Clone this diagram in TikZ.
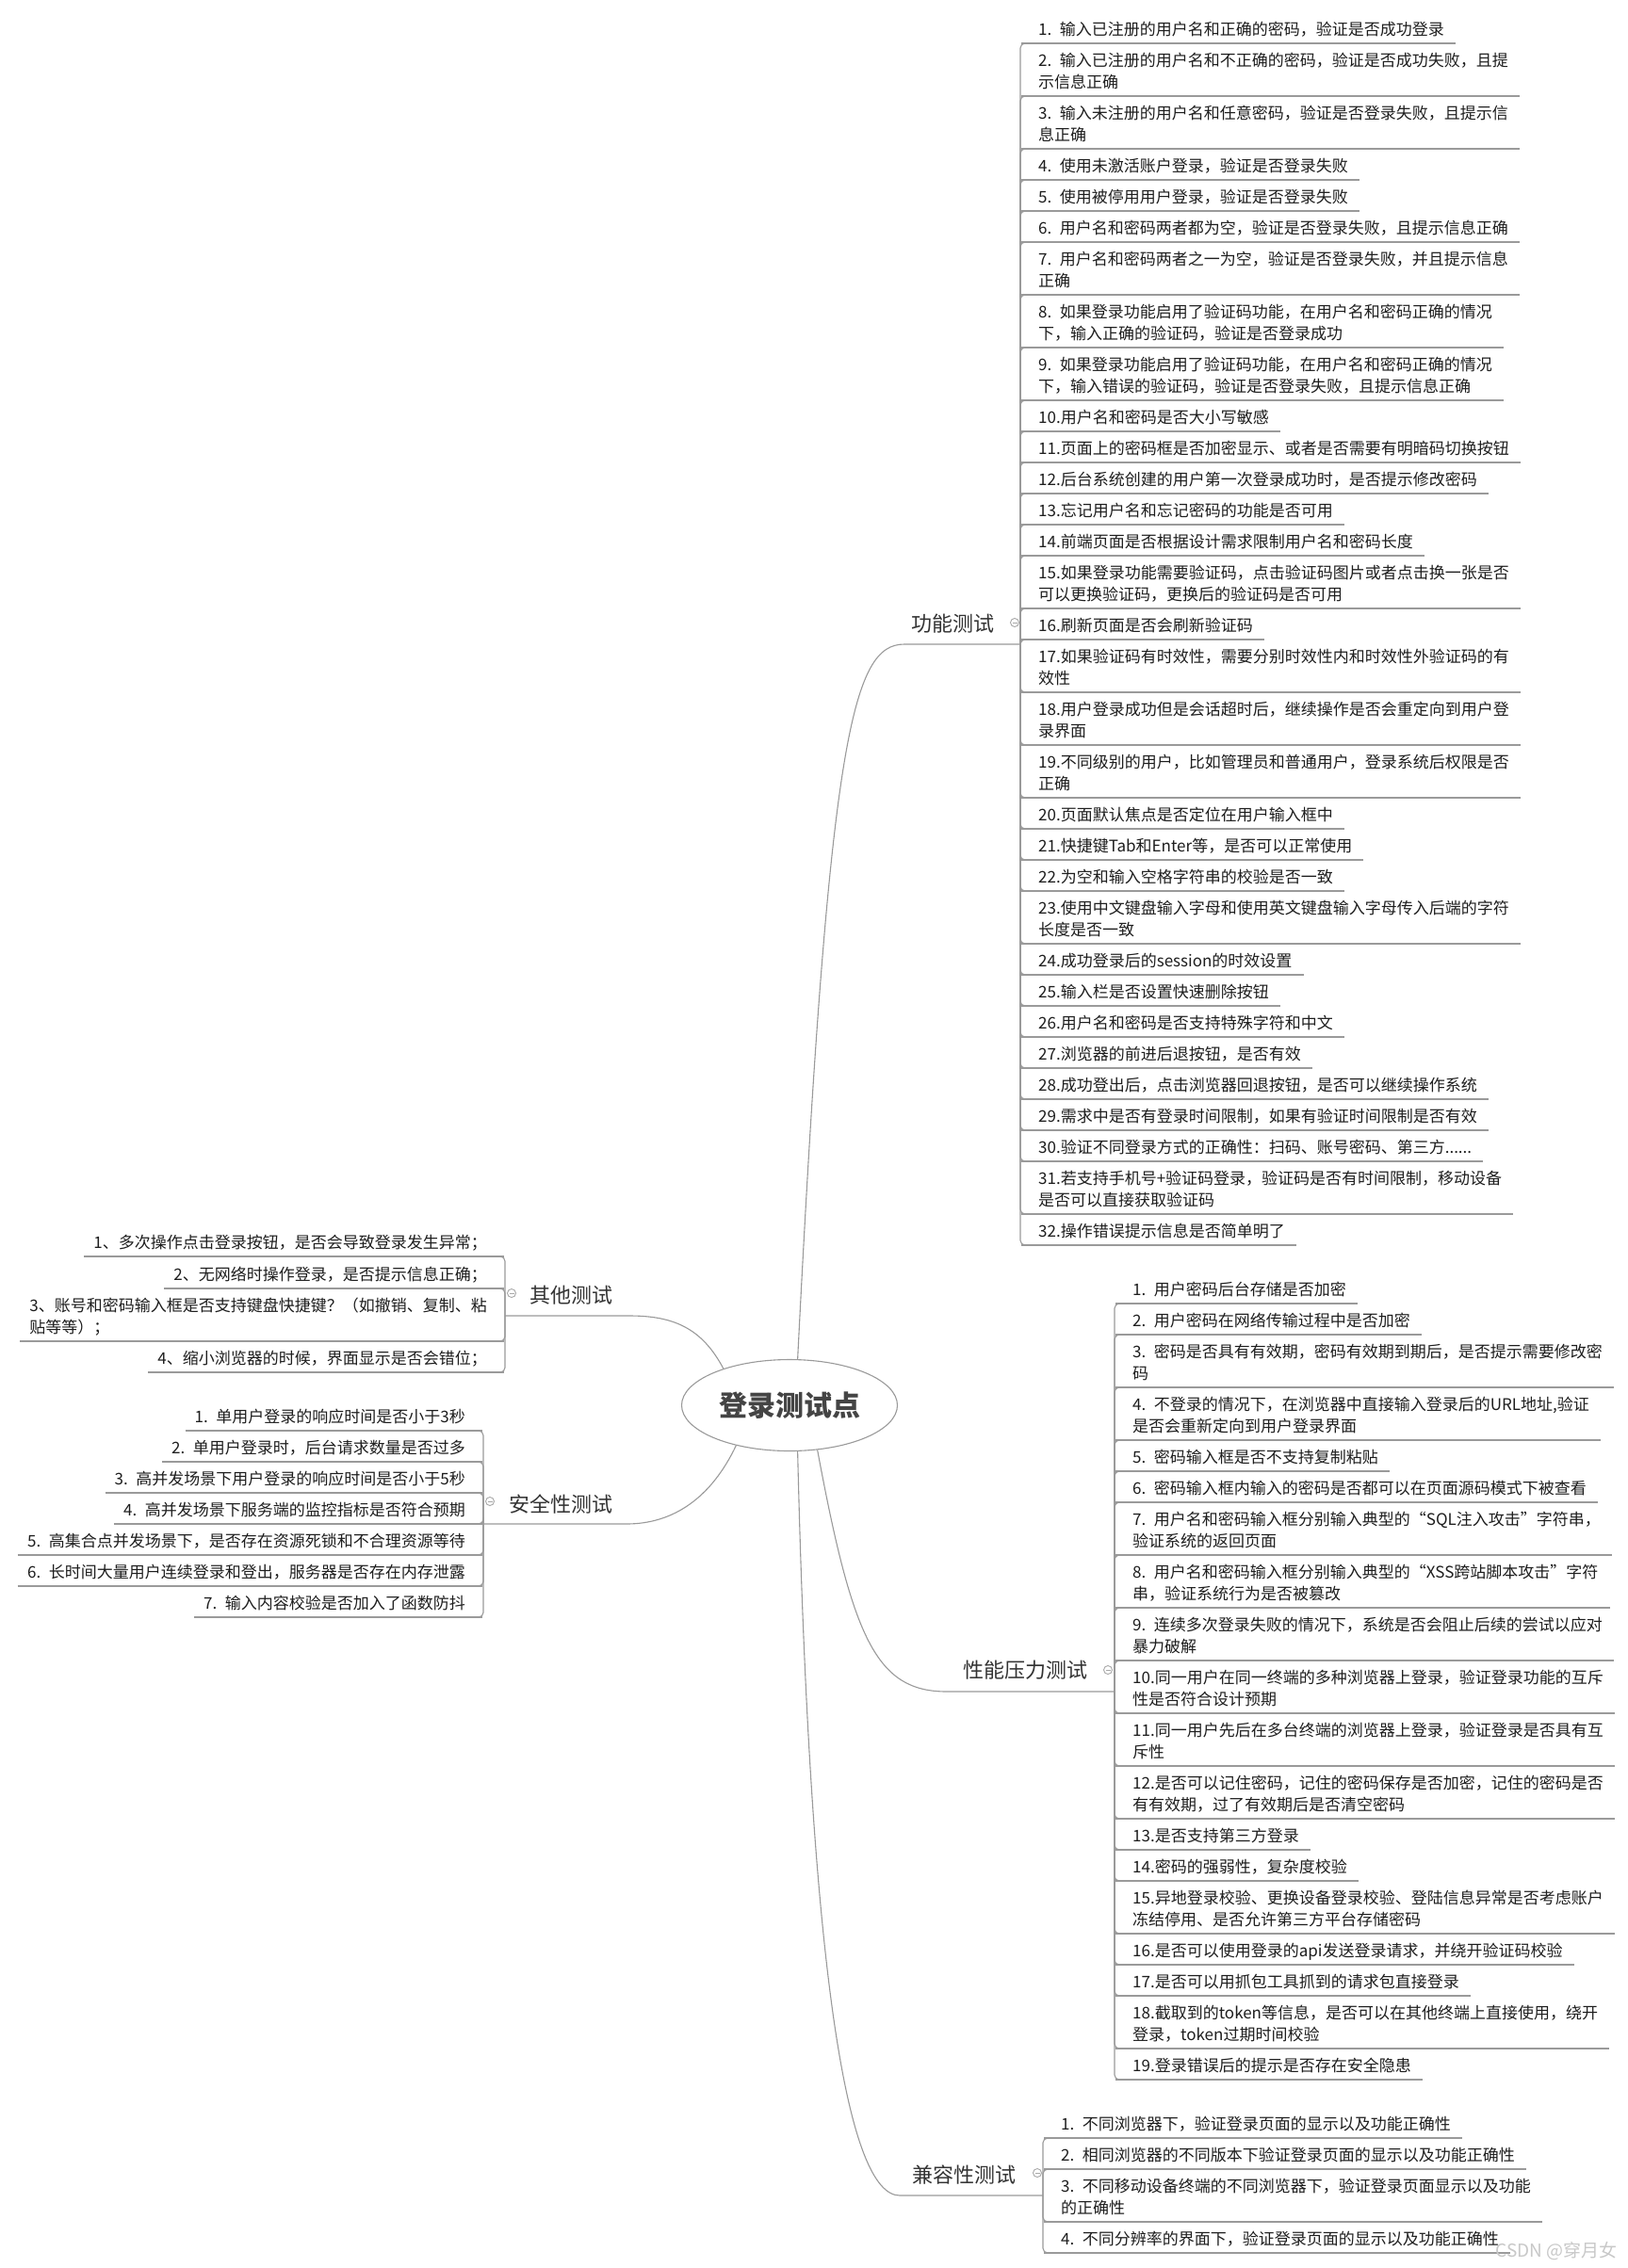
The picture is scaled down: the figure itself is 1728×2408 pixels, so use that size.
\documentclass[tikz,border=0pt]{standalone}
\usepackage{fontspec}
\setmainfont{Noto Sans CJK SC}
\usetikzlibrary{shapes.geometric}
\definecolor{lnc}{HTML}{9A9A9A}
\definecolor{foldc}{HTML}{A8A8A8}
\definecolor{itemc}{HTML}{1E1E1E}
\definecolor{lblc}{HTML}{333333}
\definecolor{rootc}{HTML}{444444}
\definecolor{wmc}{HTML}{C8C8C8}
\newcommand\st{\rule[-8.5pt]{0pt}{1pt}}
\newcommand\ritem[3]{\node[itm,anchor=south west] (#1) at (#2) {#3\st};
  \draw[ul] ([xshift=-18pt]#1.south west) -- ([xshift=12pt]#1.south east);}
\newcommand\litem[3]{\node[itm,anchor=south east] (#1) at (#2) {#3\st};
  \draw[ul] ([xshift=-10pt]#1.south west) -- ([xshift=18pt]#1.south east);}
\begin{document}
\begin{tikzpicture}[x=1pt,y=-1pt,
  ln/.style={draw=lnc, line width=1.1pt},
  ul/.style={ln},
  conn/.style={ln, rounded corners=5pt},
  itm/.style={inner sep=0pt, font=\fontsize{17}{23}\selectfont, text=itemc, align=left},
  lbl/.style={inner sep=0pt, font=\fontsize{22}{26}\selectfont, text=lblc},
  rootnode/.style={ellipse, draw=lnc, line width=1.1pt, minimum width=229pt, minimum height=97pt, inner sep=0pt, font=\fontsize{30}{36}\selectfont\bfseries, text=rootc},
  fold/.style={circle, draw=foldc, line width=0.9pt, fill=white, minimum size=9pt, inner sep=0pt,
    path picture={\draw[foldc, line width=0.9pt] ([xshift=-2.5pt]path picture bounding box.center) -- ([xshift=2.5pt]path picture bounding box.center);}},
  wm/.style={inner sep=0pt, font=\fontsize{19}{22}\selectfont, text=wmc}
]
\fill[white] (0,0) rectangle (1728,2408);
\useasboundingbox (0,0) rectangle (1728,2408);

% root
\node[rootnode] (root) at (838,1492) {登录测试点};

% branch labels
\node[lbl] (fun) at (1011,662) {功能测试};
\node[lbl] (oth) at (606,1375) {其他测试};
\node[lbl] (sec) at (595,1597) {安全性测试};
\node[lbl] (perf) at (1088,1773) {性能压力测试};
\node[lbl] (comp) at (1023,2309) {兼容性测试};

\coordinate (fj) at (1083,684);
\coordinate (oj) at (536,1397);
\coordinate (sj) at (513,1618);
\coordinate (pj) at (1183,1796);
\coordinate (cj) at (1107,2331);

% main connectors
\draw[ln] (root.80) .. controls (880,780) and (905,684) .. (960,684) -- (fj);
\draw[ln] (root.151) .. controls (745,1410) and (715,1397) .. (668,1397) -- (oj);
\draw[ln] (root.-143) .. controls (755,1590) and (715,1618) .. (665,1618) -- (sj);
\draw[ln] (root.-58) .. controls (905,1740) and (930,1796) .. (1005,1796) -- (pj);
\draw[ln] (root.-80) .. controls (860,2100) and (900,2331) .. (955,2331) -- (cj);

% 功能测试 items
\ritem{f1}{1102,46}{1.\enspace 输入已注册的用户名和正确的密码，验证是否成功登录}
\ritem{f2}{1102,102}{2.\enspace 输入已注册的用户名和不正确的密码，验证是否成功失败，且提\\示信息正确}
\ritem{f3}{1102,158}{3.\enspace 输入未注册的用户名和任意密码，验证是否登录失败，且提示信\\息正确}
\ritem{f4}{1102,191}{4.\enspace 使用未激活账户登录，验证是否登录失败}
\ritem{f5}{1102,224}{5.\enspace 使用被停用用户登录，验证是否登录失败}
\ritem{f6}{1102,257}{6.\enspace 用户名和密码两者都为空，验证是否登录失败，且提示信息正确}
\ritem{f7}{1102,313}{7.\enspace 用户名和密码两者之一为空，验证是否登录失败，并且提示信息\\正确}
\ritem{f8}{1102,369}{8.\enspace 如果登录功能启用了验证码功能，在用户名和密码正确的情况\\下，输入正确的验证码，验证是否登录成功}
\ritem{f9}{1102,425}{9.\enspace 如果登录功能启用了验证码功能，在用户名和密码正确的情况\\下，输入错误的验证码，验证是否登录失败，且提示信息正确}
\ritem{f10}{1102,458}{10.用户名和密码是否大小写敏感}
\ritem{f11}{1102,491}{11.页面上的密码框是否加密显示、或者是否需要有明暗码切换按钮}
\ritem{f12}{1102,524}{12.后台系统创建的用户第一次登录成功时，是否提示修改密码}
\ritem{f13}{1102,557}{13.忘记用户名和忘记密码的功能是否可用}
\ritem{f14}{1102,590}{14.前端页面是否根据设计需求限制用户名和密码长度}
\ritem{f15}{1102,646}{15.如果登录功能需要验证码，点击验证码图片或者点击换一张是否\\可以更换验证码，更换后的验证码是否可用}
\ritem{f16}{1102,679}{16.刷新页面是否会刷新验证码}
\ritem{f17}{1102,735}{17.如果验证码有时效性，需要分别时效性内和时效性外验证码的有\\效性}
\ritem{f18}{1102,791}{18.用户登录成功但是会话超时后，继续操作是否会重定向到用户登\\录界面}
\ritem{f19}{1102,847}{19.不同级别的用户，比如管理员和普通用户，登录系统后权限是否\\正确}
\ritem{f20}{1102,880}{20.页面默认焦点是否定位在用户输入框中}
\ritem{f21}{1102,913}{21.快捷键Tab和Enter等，是否可以正常使用}
\ritem{f22}{1102,946}{22.为空和输入空格字符串的校验是否一致}
\ritem{f23}{1102,1002}{23.使用中文键盘输入字母和使用英文键盘输入字母传入后端的字符\\长度是否一致}
\ritem{f24}{1102,1035}{24.成功登录后的session的时效设置}
\ritem{f25}{1102,1068}{25.输入栏是否设置快速删除按钮}
\ritem{f26}{1102,1101}{26.用户名和密码是否支持特殊字符和中文}
\ritem{f27}{1102,1134}{27.浏览器的前进后退按钮，是否有效}
\ritem{f28}{1102,1167}{28.成功登出后，点击浏览器回退按钮，是否可以继续操作系统}
\ritem{f29}{1102,1200}{29.需求中是否有登录时间限制，如果有验证时间限制是否有效}
\ritem{f30}{1102,1233}{30.验证不同登录方式的正确性：扫码、账号密码、第三方......}
\ritem{f31}{1102,1289}{31.若支持手机号+验证码登录，验证码是否有时间限制，移动设备\\是否可以直接获取验证码}
\ritem{f32}{1102,1322}{32.操作错误提示信息是否简单明了}
\foreach \i in {1,...,32} \draw[conn] (fj) |- (f\i.south west);

% 其他测试 items
\litem{o1}{517,1334}{1、多次操作点击登录按钮，是否会导致登录发生异常；}
\litem{o2}{517,1368}{2、无网络时操作登录，是否提示信息正确；}
\litem{o3}{517,1424}{3、账号和密码输入框是否支持键盘快捷键？（如撤销、复制、粘\\贴等等）；}
\litem{o4}{517,1457}{4、缩小浏览器的时候，界面显示是否会错位；}
\foreach \i in {1,...,4} \draw[conn] (oj) |- (o\i.south east);

% 安全性测试 items
\litem{s1}{494,1519}{1.\enspace 单用户登录的响应时间是否小于3秒}
\litem{s2}{494,1552}{2.\enspace 单用户登录时，后台请求数量是否过多}
\litem{s3}{494,1585}{3.\enspace 高并发场景下用户登录的响应时间是否小于5秒}
\litem{s4}{494,1618}{4.\enspace 高并发场景下服务端的监控指标是否符合预期}
\litem{s5}{494,1651}{5.\enspace 高集合点并发场景下，是否存在资源死锁和不合理资源等待}
\litem{s6}{494,1684}{6.\enspace 长时间大量用户连续登录和登出，服务器是否存在内存泄露}
\litem{s7}{494,1717}{7.\enspace 输入内容校验是否加入了函数防抖}
\foreach \i in {1,...,7} \draw[conn] (sj) |- (s\i.south east);

% 性能压力测试 items
\ritem{p1}{1202,1384}{1.\enspace 用户密码后台存储是否加密}
\ritem{p2}{1202,1417}{2.\enspace 用户密码在网络传输过程中是否加密}
\ritem{p3}{1202,1473}{3.\enspace 密码是否具有有效期，密码有效期到期后，是否提示需要修改密\\码}
\ritem{p4}{1202,1529}{4.\enspace 不登录的情况下，在浏览器中直接输入登录后的URL地址,验证\\是否会重新定向到用户登录界面}
\ritem{p5}{1202,1562}{5.\enspace 密码输入框是否不支持复制粘贴}
\ritem{p6}{1202,1595}{6.\enspace 密码输入框内输入的密码是否都可以在页面源码模式下被查看}
\ritem{p7}{1202,1651}{7.\enspace 用户名和密码输入框分别输入典型的“SQL注入攻击”字符串，\\验证系统的返回页面}
\ritem{p8}{1202,1707}{8.\enspace 用户名和密码输入框分别输入典型的“XSS跨站脚本攻击”字符\\串，验证系统行为是否被篡改}
\ritem{p9}{1202,1763}{9.\enspace 连续多次登录失败的情况下，系统是否会阻止后续的尝试以应对\\暴力破解}
\ritem{p10}{1202,1819}{10.同一用户在同一终端的多种浏览器上登录，验证登录功能的互斥\\性是否符合设计预期}
\ritem{p11}{1202,1875}{11.同一用户先后在多台终端的浏览器上登录，验证登录是否具有互\\斥性}
\ritem{p12}{1202,1931}{12.是否可以记住密码，记住的密码保存是否加密，记住的密码是否\\有有效期，过了有效期后是否清空密码}
\ritem{p13}{1202,1964}{13.是否支持第三方登录}
\ritem{p14}{1202,1997}{14.密码的强弱性，复杂度校验}
\ritem{p15}{1202,2053}{15.异地登录校验、更换设备登录校验、登陆信息异常是否考虑账户\\冻结停用、是否允许第三方平台存储密码}
\ritem{p16}{1202,2086}{16.是否可以使用登录的api发送登录请求，并绕开验证码校验}
\ritem{p17}{1202,2119}{17.是否可以用抓包工具抓到的请求包直接登录}
\ritem{p18}{1202,2175}{18.截取到的token等信息，是否可以在其他终端上直接使用，绕开\\登录，token过期时间校验}
\ritem{p19}{1202,2208}{19.登录错误后的提示是否存在安全隐患}
\foreach \i in {1,...,19} \draw[conn] (pj) |- (p\i.south west);

% 兼容性测试 items
\ritem{c1}{1126,2270}{1.\enspace 不同浏览器下，验证登录页面的显示以及功能正确性}
\ritem{c2}{1126,2303}{2.\enspace 相同浏览器的不同版本下验证登录页面的显示以及功能正确性}
\ritem{c3}{1126,2359}{3.\enspace 不同移动设备终端的不同浏览器下，验证登录页面显示以及功能\\的正确性}
\ritem{c4}{1126,2392}{4.\enspace 不同分辨率的界面下，验证登录页面的显示以及功能正确性}
\foreach \i in {1,...,4} \draw[conn] (cj) |- (c\i.south west);

% fold markers
\node[fold] (funf) at (1077,661) {};
\node[fold] (othf) at (543,1373) {};
\node[fold] (secf) at (520,1594) {};
\node[fold] (perff) at (1176,1773) {};
\node[fold] (compf) at (1101,2307) {};

% watermark
\node[wm, anchor=east] (wmk) at (1717,2390) {CSDN @穿月女};
\end{tikzpicture}
\end{document}
